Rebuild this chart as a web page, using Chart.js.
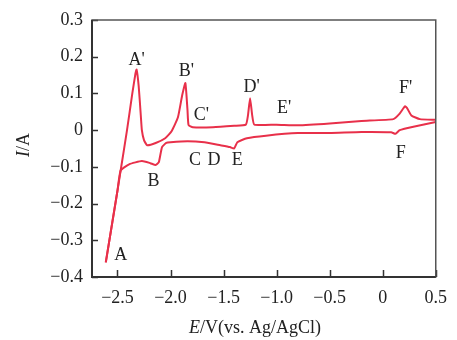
<!doctype html>
<html lang="en">
  <head>
    <meta charset="utf-8">
    <title>CV curve</title>
    <script src="https://cdn.jsdelivr.net/npm/chart.js@4"></script>
    <style>
      html, body { margin: 0; padding: 0; background: #fff; }
      #wrap { position: relative; width: 457px; height: 340px; }
    </style>
  </head>
  <body>
    <div id="wrap"><canvas id="cv"></canvas></div>
    <script>
      // anodic sweep (upper branch), A -> A' -> B' -> C' -> D' -> E' -> F'
      const upperE = [-2.61, -2.50, -2.47, -2.41, -2.36, -2.33, -2.32, -2.30, -2.28, -2.27, -2.25, -2.22, -2.14, -2.05, -1.99, -1.93, -1.89, -1.86, -1.84, -1.83, -1.79, -1.60, -1.40, -1.29, -1.27, -1.25, -1.23, -1.21, -1.00, -0.80, -0.50, -0.20, 0.10, 0.16, 0.21, 0.23, 0.27, 0.35, 0.50];
      const upperI = [-0.36, -0.165, -0.11, 0.00, 0.10, 0.155, 0.165, 0.12, 0.04, 0.00, -0.027, -0.041, -0.035, -0.022, -0.003, 0.035, 0.095, 0.128, 0.055, 0.014, 0.008, 0.008, 0.012, 0.015, 0.04, 0.087, 0.04, 0.015, 0.015, 0.013, 0.018, 0.025, 0.030, 0.045, 0.065, 0.060, 0.040, 0.030, 0.028];
      // cathodic sweep (lower branch), F -> E -> D -> C -> B -> A
      const lowerE = [0.50, 0.30, 0.16, 0.12, 0.08, -0.20, -0.50, -0.80, -1.10, -1.28, -1.37, -1.40, -1.44, -1.53, -1.68, -1.84, -2.00, -2.04, -2.08, -2.11, -2.14, -2.19, -2.27, -2.39, -2.47, -2.50, -2.61];
      const lowerI = [0.022, 0.010, 0.000, -0.010, -0.006, -0.005, -0.008, -0.008, -0.015, -0.022, -0.033, -0.050, -0.046, -0.041, -0.033, -0.030, -0.033, -0.035, -0.046, -0.087, -0.095, -0.090, -0.084, -0.093, -0.11, -0.165, -0.36];

      const xTicks = [-2.5, -2.0, -1.5, -1.0, -0.5, 0, 0.5];
      const xTickLabels = ["\u22122.5", "\u22122.0", "\u22121.5", "\u22121.0", "\u22120.5", "0", "0.5"];
      const yTicks = [0.3, 0.2, 0.1, 0, -0.1, -0.2, -0.3, -0.4];
      const yTickLabels = ["0.3", "0.2", "0.1", "0", "\u22120.1", "\u22120.2", "\u22120.3", "\u22120.4"];

      const peakNames = ["A'", "B'", "C'", "D'", "E'", "F'", "A", "B", "C", "D", "E", "F"];
      const peakE = [-2.32, -1.85, -1.71, -1.235, -0.93, 0.215, -2.47, -2.16, -1.77, -1.59, -1.37, 0.17];
      const peakI = [0.19, 0.16, 0.04, 0.117, 0.06, 0.114, -0.34, -0.14, -0.082, -0.082, -0.082, -0.063];

      const serif = "'Liberation Serif', 'DejaVu Serif', serif";
      const red = "#e8304a";

      const decor = {
        id: "decor",
        afterDatasetsDraw(chart) {
          const ctx = chart.ctx;
          const a = chart.chartArea;
          const xs = chart.scales.x, ys = chart.scales.y;
          ctx.save();
          // inward tick marks
          ctx.strokeStyle = "#333";
          ctx.lineWidth = 1.5;
          ctx.beginPath();
          xTicks.forEach(v => {
            const px = Math.round(xs.getPixelForValue(v)) + 0.5;
            ctx.moveTo(px, a.bottom);
            ctx.lineTo(px, a.bottom - 7);
          });
          yTicks.forEach(v => {
            const py = Math.round(ys.getPixelForValue(v)) + 0.5;
            ctx.moveTo(a.left, py);
            ctx.lineTo(a.left + 6, py);
          });
          ctx.stroke();
          // frame
          ctx.lineWidth = 1.5;
          ctx.strokeStyle = "#555";
          ctx.strokeRect(a.left, a.top, a.right - a.left, a.bottom - a.top);
          ctx.lineWidth = 2;
          ctx.strokeStyle = "#333";
          ctx.beginPath();
          ctx.moveTo(a.left, a.top);
          ctx.lineTo(a.left, a.bottom);
          ctx.lineTo(a.right, a.bottom);
          ctx.stroke();

          // peak labels
          ctx.fillStyle = "#222";
          ctx.font = "18px " + serif;
          ctx.textAlign = "center";
          ctx.textBaseline = "middle";
          peakNames.forEach((n, i) => {
            ctx.fillText(n, xs.getPixelForValue(peakE[i]), ys.getPixelForValue(peakI[i]));
          });

          // axis titles, italic symbol + upright unit
          const part = (txt, font, x, y) => {
            ctx.font = font;
            ctx.fillText(txt, x, y);
            return ctx.measureText(txt).width;
          };
          const it = "italic 18px " + serif, up = "18px " + serif;
          ctx.textAlign = "left";
          ctx.textBaseline = "middle";
          ctx.font = it;
          let w = ctx.measureText("E").width;
          ctx.font = up;
          w += ctx.measureText("/V(vs. Ag/AgCl)").width;
          let x0 = 255 - w / 2;
          x0 += part("E", it, x0, 328);
          part("/V(vs. Ag/AgCl)", up, x0, 328);

          ctx.translate(24, 145);
          ctx.rotate(-Math.PI / 2);
          ctx.font = it;
          w = ctx.measureText("I").width;
          ctx.font = up;
          w += ctx.measureText("/A").width;
          x0 = -w / 2;
          x0 += part("I", it, x0, 0);
          part("/A", up, x0, 0);
          ctx.restore();
        }
      };

      const toPts = (xsArr, ysArr) => xsArr.map((x, i) => ({ x: x, y: ysArr[i] }));

      new Chart(document.getElementById("cv").getContext("2d"), {
        type: "scatter",
        data: {
          datasets: [
            { label: "anodic", data: toPts(upperE, upperI), showLine: true, borderColor: red, borderWidth: 2, pointRadius: 0, tension: 0.15 },
            { label: "cathodic", data: toPts(lowerE, lowerI), showLine: true, borderColor: red, borderWidth: 2, pointRadius: 0, tension: 0.15 }
          ]
        },
        options: {
          responsive: true,
          maintainAspectRatio: false,
          animation: false,
          layout: { padding: { left: 0, top: 20, right: 14, bottom: 0 } },
          plugins: { legend: { display: false }, tooltip: { enabled: false } },
          scales: {
            x: {
              type: "linear",
              min: -2.74,
              max: 0.5,
              grid: { display: false, drawTicks: false },
              border: { display: false },
              afterBuildTicks: s => { s.ticks = xTicks.map(v => ({ value: v })); },
              afterFit: s => { s.height = 63; },
              ticks: {
                padding: 10,
                color: "#222",
                font: { family: serif, size: 18 },
                maxRotation: 0,
                autoSkip: false,
                callback: (v, i) => xTickLabels[i]
              }
            },
            y: {
              min: -0.4,
              max: 0.3,
              grid: { display: false, drawTicks: false },
              border: { display: false },
              afterBuildTicks: s => { s.ticks = yTicks.map(v => ({ value: v })); },
              afterFit: s => { s.width = 92; },
              ticks: {
                padding: 9,
                color: "#222",
                font: { family: serif, size: 18 },
                autoSkip: false,
                callback: (v, i) => yTickLabels[i]
              }
            }
          }
        },
        plugins: [decor]
      });
    </script>
  </body>
</html>
